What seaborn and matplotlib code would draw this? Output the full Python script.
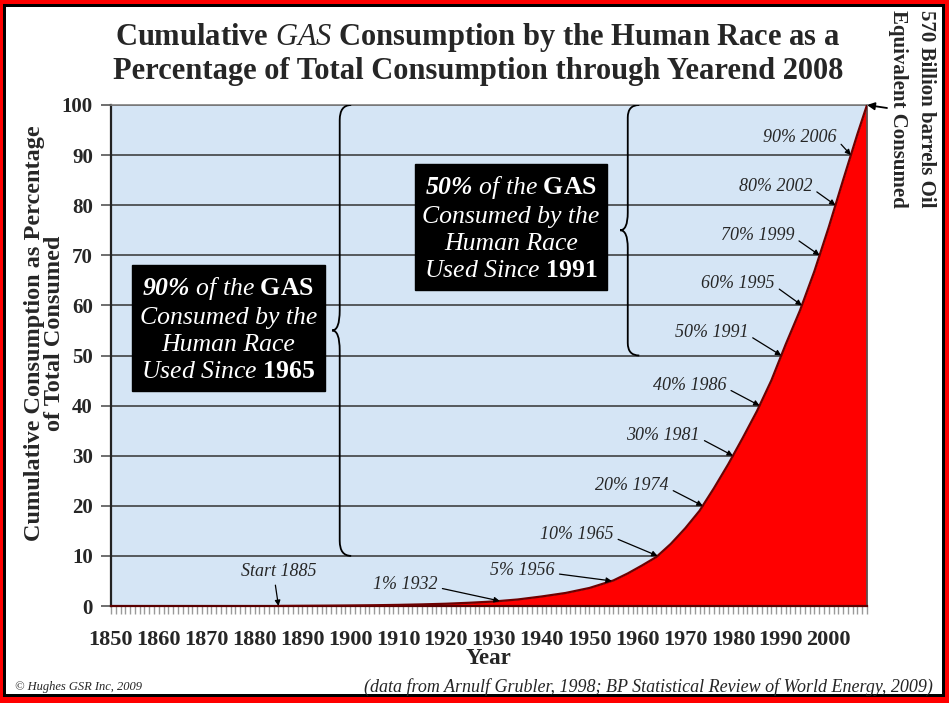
import numpy as np
import matplotlib
matplotlib.use("Agg")
import matplotlib.pyplot as plt
import seaborn as sns
from matplotlib.path import Path
from matplotlib.patches import PathPatch, Rectangle

# cumulative gas consumption, % of total through 2008
years = [1885, 1890, 1895, 1900, 1905, 1910, 1915, 1920, 1925, 1930, 1935,
         1940, 1945, 1950, 1955, 1958, 1961, 1964, 1967, 1970, 1973, 1976,
         1979, 1982, 1985, 1988, 1991, 1994, 1997, 2000, 2003, 2006, 2008]
pct = [0.0, 0.03, 0.06, 0.1, 0.15, 0.22, 0.32, 0.45, 0.65, 0.9, 1.3,
       1.9, 2.6, 3.6, 5.1, 6.5, 8.1, 9.8, 12.4, 15.5, 19.0, 23.5,
       28.3, 33.5, 38.9, 45.0, 52.2, 59.0, 66.8, 75.6, 85.0, 94.2, 100.0]

# labelled milestones
ms_years = [1932, 1956, 1965, 1974, 1981, 1986, 1991, 1995, 1999, 2002, 2006]
ms_pct = [1, 5, 10, 20, 30, 40, 50, 60, 70, 80, 90]
# where the right end of each label sits, in pixels from its point
ms_dx = [-62, -57, -44, -34, -33, -33, -33, -27, -25, -23, -14]
ms_dy = [16, 10, 21, 20, 20, 20, 23, 22, 20, 19, 18]

start_year = 1885
xticks = list(range(1850, 2001, 10))
yticks = list(range(0, 101, 10))

sns.set_theme(style="white")
plt.rcParams['font.family'] = ['Liberation Serif', 'DejaVu Serif']
plt.rcParams['mathtext.fontset'] = 'custom'
plt.rcParams['mathtext.rm'] = 'Liberation Serif:bold'
plt.rcParams['mathtext.it'] = 'Liberation Serif:italic'
plt.rcParams['mathtext.bf'] = 'Liberation Serif:bold:italic'

W, H = 949, 703
fig = plt.figure(figsize=(W / 100, H / 100), dpi=100, facecolor='red')

# red / black / white frame
fig.add_artist(Rectangle((3 / W, 6 / H), 1 - 7 / W, 1 - 10 / H, transform=fig.transFigure,
                         facecolor='black', edgecolor='none', zorder=-5))
fig.add_artist(Rectangle((6 / W, 9 / H), 1 - 13 / W, 1 - 16 / H, transform=fig.transFigure,
                         facecolor='white', edgecolor='none', zorder=-4))

ax = fig.add_axes([111 / W, 97 / H, 756 / W, 501 / H])
ax.set_facecolor('#d5e5f5')

ax.fill_between(years, pct, 0, color='#ff0000', lw=0, zorder=2)
sns.lineplot(x=years, y=pct, ax=ax, color='#6e0000', lw=1.6, zorder=3)

ax.set_xlim(1850, 2008)
ax.set_ylim(0, 100)
ax.set_xticks(xticks)
ax.set_xticks(range(1850, 2009), minor=True)
ax.set_yticks(yticks)
ax.set_xticklabels([str(t) for t in xticks], fontsize=16, fontweight='bold')
ax.set_yticklabels([str(t) for t in yticks], fontsize=15, fontweight='bold')
ax.tick_params(axis='x', which='both', length=6, width=1, color='#9a9a9a',
               bottom=True, pad=11, direction='out')
ax.tick_params(axis='y', length=7, width=1.2, color='#555555', left=True, pad=6)

ax.set_axisbelow(True)
ax.yaxis.grid(True, color='#333333', lw=1.1)
ax.xaxis.grid(False)
for side, col, lw in [('left', '#222222', 1.6), ('bottom', '#5a0000', 1.6),
                      ('top', '#808080', 1.2), ('right', '#555555', 1.2)]:
    ax.spines[side].set_visible(True)
    ax.spines[side].set_color(col)
    ax.spines[side].set_linewidth(lw)

ax.set_ylabel("Cumulative Consumption as Percentage\nof Total Consumed",
              fontsize=17.5, fontweight='bold', linespacing=0.95, va='center', ha='center')
ax.yaxis.set_label_coords(-0.088, 0.545)
ax.set_xlabel("Year", fontsize=16.5, fontweight='bold', va='center')
ax.xaxis.set_label_coords(0.5, -0.104)

# milestone labels, arrows pointing at the curve
arrow = dict(arrowstyle='-|>', color='black', lw=0.9, mutation_scale=8,
             shrinkA=1, shrinkB=0, relpos=(1.0, 0.35))
for yr, p, dx, dy in zip(ms_years, ms_pct, ms_dx, ms_dy):
    x_on_curve = np.interp(p, pct, years)
    ax.annotate(f"{p}% {yr}", xy=(x_on_curve, p), xytext=(dx, dy), textcoords='offset pixels',
                ha='right', va='center', fontsize=13, fontstyle='italic',
                arrowprops=arrow, zorder=5)
ax.annotate(f"Start {start_year}", xy=(start_year, 0), xytext=(0, 34),
            textcoords='offset pixels', ha='center', va='center', fontsize=13,
            fontstyle='italic', zorder=5,
            arrowprops=dict(arrowstyle='-|>', color='black', lw=0.9, mutation_scale=8,
                            shrinkA=1, shrinkB=0, relpos=(0.45, 0.0)))

# arrow to the end of the curve + the side note
ax.annotate("", xy=(years[-1], pct[-1]), xytext=(20, -3), textcoords='offset pixels',
            annotation_clip=False,
            arrowprops=dict(arrowstyle='-|>', color='black', lw=1.3, mutation_scale=11,
                            shrinkA=0, shrinkB=0))
fig.text(926 / W, 1 - 10 / H, "570 Billion barrels Oil", rotation=270, ha='center',
         va='top', fontsize=15, fontweight='bold')
fig.text(898 / W, 1 - 10 / H, "Equivalent Consumed", rotation=270, ha='center',
         va='top', fontsize=15, fontweight='bold')


def brace(ax, x, y0, y1, w_end, w_tip, h_end, h_mid):
    ym = (y0 + y1) / 2
    verts = [(x + w_end, y1), (x, y1), (x, y1 - h_end),
             (x, ym + h_mid), (x, ym), (x - w_tip, ym),
             (x, ym), (x, ym - h_mid),
             (x, y0 + h_end), (x, y0), (x + w_end, y0)]
    codes = [Path.MOVETO, Path.CURVE3, Path.CURVE3,
             Path.LINETO, Path.CURVE3, Path.CURVE3,
             Path.CURVE3, Path.CURVE3,
             Path.LINETO, Path.CURVE3, Path.CURVE3]
    ax.add_patch(PathPatch(Path(verts, codes), fill=False, color='black', lw=1.3, zorder=4))


brace(ax, 1897.8, 10, 100, 2.4, 1.6, 3.0, 4.0)
brace(ax, 1958.0, 50, 100, 2.4, 1.6, 2.5, 3.5)

box = dict(boxstyle='square,pad=0.3', facecolor='black', edgecolor='black')
ax.text(1874.5, 55.3,
        "$\\mathbf{90\\%}$ of the $\\mathrm{GAS}$\nConsumed by the\nHuman Race\nUsed Since $\\mathrm{1965}$",
        ha='center', va='center', color='white', fontsize=18.5, fontstyle='italic',
        linespacing=1.3, bbox=box, zorder=6)
ax.text(1933.6, 75.4,
        "$\\mathbf{50\\%}$ of the $\\mathrm{GAS}$\nConsumed by the\nHuman Race\nUsed Since $\\mathrm{1991}$",
        ha='center', va='center', color='white', fontsize=18.5, fontstyle='italic',
        linespacing=1.3, bbox=box, zorder=6)

fig.text(478 / W, 1 - 38 / H, "Cumulative $\\mathit{GAS}$ Consumption by the Human Race as a",
         ha='center', va='center', fontsize=22, fontweight='bold')
fig.text(478 / W, 1 - 72 / H, "Percentage of Total Consumption through Yearend 2008",
         ha='center', va='center', fontsize=22, fontweight='bold')

fig.text(933 / W, 1 - 687 / H,
         "(data from Arnulf Grubler, 1998; BP Statistical Review of World Energy, 2009)",
         ha='right', va='center', fontsize=13, fontstyle='italic')
fig.text(15 / W, 1 - 687 / H, "\u00a9 Hughes GSR Inc, 2009", ha='left', va='center',
         fontsize=9, fontstyle='italic')

fig.savefig("out.png", dpi=100, facecolor=fig.get_facecolor())
